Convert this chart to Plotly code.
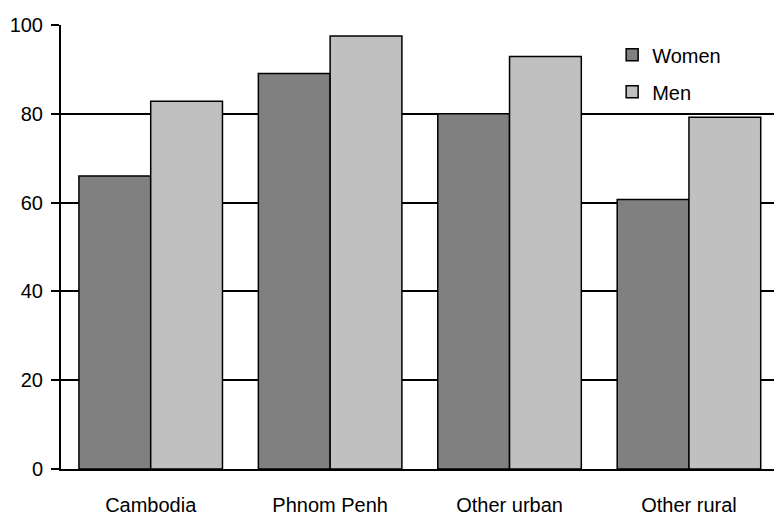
import plotly.graph_objects as go

categories = ["Cambodia", "Phnom Penh", "Other urban", "Other rural"]
women = [66.0, 89.1, 80.0, 60.7]
men = [82.8, 97.5, 92.9, 79.2]
y_ticks = [0, 20, 40, 60, 80, 100]

FONT = "Liberation Sans, Arial, sans-serif"

fig = go.Figure()
fig.add_trace(go.Bar(x=categories, y=women, name="Women", legendgroup="w",
                     marker=dict(color="#808080", line=dict(color="black", width=1.5))))
fig.add_trace(go.Bar(x=categories, y=men, name="Men", legendgroup="m",
                     marker=dict(color="#C0C0C0", line=dict(color="black", width=1.5))))

fig.update_layout(
    width=774, height=516,
    margin=dict(l=61, r=0, t=25, b=39, pad=0),
    paper_bgcolor="white", plot_bgcolor="white",
    font=dict(family=FONT, size=20, color="black"),
    barmode="group", bargap=0.2, bargroupgap=0,
    showlegend=True,
    legend=dict(x=0.773, y=0.977, xanchor="left", yanchor="top",
                bgcolor="rgba(0,0,0,0)", font=dict(size=20),
                tracegroupgap=8, itemwidth=30),
    xaxis=dict(range=[-0.5, 3.474], showline=True, linecolor="black", linewidth=1.5,
               ticks="", showgrid=False, tickfont=dict(size=20), ticklabelstandoff=17),
    yaxis=dict(range=[0, 100], tickvals=y_ticks, showline=True, linecolor="black",
               linewidth=2, ticks="outside", ticklen=8, tickwidth=1.5, tickcolor="black",
               showgrid=True, gridcolor="black", gridwidth=1.5, zeroline=False,
               tickfont=dict(size=20), ticklabelstandoff=4),
)
fig.write_html("out.html", config={"displayModeBar": False},
               post_script="document.body.style.margin='0';document.body.style.overflow='hidden';")
